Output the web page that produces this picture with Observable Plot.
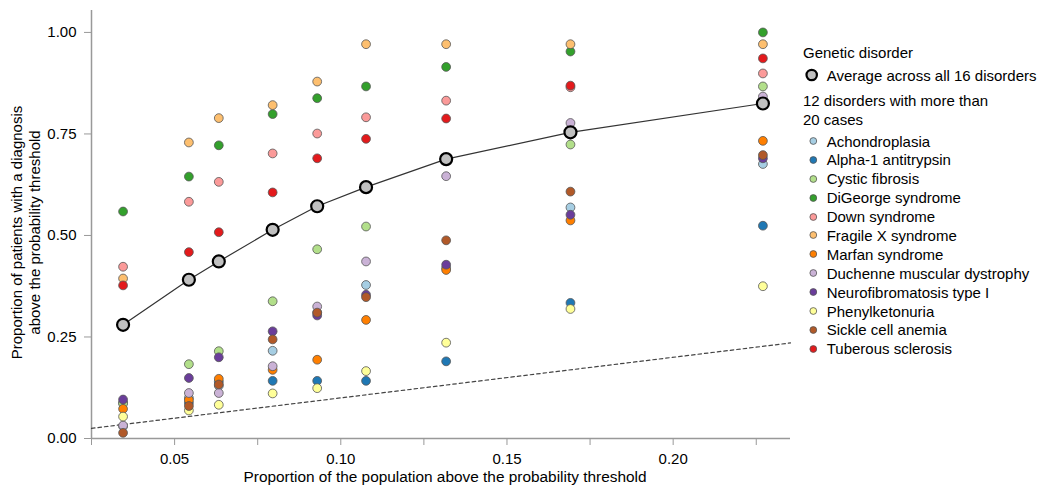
<!DOCTYPE html>
<html>
<head>
<meta charset="utf-8">
<script src="https://cdn.jsdelivr.net/npm/d3@7"></script>
<script src="https://cdn.jsdelivr.net/npm/@observablehq/plot@0.6"></script>
<style>
  body { margin: 0; background: #fff; font-family: "Liberation Sans", Arial, sans-serif; }
  #wrap { position: relative; width: 1050px; height: 494px; }
  #legend { position: absolute; left: 803px; top: 43px; font-size: 15px; color: #000; }
  #legend .title { line-height: 19px; height: 19px; }
  #legend .avg { display: flex; align-items: center; height: 22px; margin-top: 2px; }
  #legend .sub { line-height: 19.3px; margin-top: 5px; margin-bottom: 2px; }
  #legend .item { display: flex; align-items: center; height: 18.9px; }
  #legend svg { flex: none; }
</style>
</head>
<body>
<div id="wrap">
  <div id="chart"></div>
  <div id="legend"></div>
</div>
<script>
// proportion of the population above the probability threshold (x)
const thresholds = [0.0345, 0.0543, 0.0633, 0.0795, 0.0929, 0.1076, 0.1317, 0.1691, 0.2270];
// average across all 16 disorders
const average = [0.280, 0.391, 0.436, 0.514, 0.572, 0.619, 0.688, 0.754, 0.825];

const disorders = ["Achondroplasia", "Alpha-1 antitrypsin", "Cystic fibrosis", "DiGeorge syndrome",
  "Down syndrome", "Fragile X syndrome", "Marfan syndrome", "Duchenne muscular dystrophy",
  "Neurofibromatosis type I", "Phenylketonuria", "Sickle cell anemia", "Tuberous sclerosis"];
const colors = ["#a6cee3", "#1f78b4", "#b2df8a", "#33a02c", "#fb9a99", "#fdbf6f",
  "#ff7f00", "#cab2d6", "#6a3d9a", "#ffff99", "#b15928", "#e31a1c"];

const achondroplasia = [0.030, 0.100, 0.130, 0.216, 0.310, 0.378, 0.420, 0.569, 0.676];
const alpha1 =         [0.088, 0.088, 0.140, 0.142, 0.142, 0.142, 0.190, 0.334, 0.524];
const cysticFibrosis = [0.086, 0.183, 0.215, 0.338, 0.466, 0.522, 0.690, 0.724, 0.867];
const diGeorge =       [0.559, 0.645, 0.722, 0.799, 0.838, 0.867, 0.915, 0.953, 1.000];
const down =           [0.423, 0.583, 0.632, 0.702, 0.751, 0.791, 0.832, 0.865, 0.899];
const fragileX =       [0.394, 0.729, 0.789, 0.821, 0.879, 0.971, 0.971, 0.971, 0.971];
const marfan =         [0.073, 0.095, 0.147, 0.169, 0.194, 0.292, 0.415, 0.537, 0.733];
const duchenne =       [0.032, 0.112, 0.112, 0.178, 0.325, 0.436, 0.646, 0.777, 0.842];
const neurofibro =     [0.096, 0.149, 0.200, 0.264, 0.303, 0.354, 0.428, 0.551, 0.690];
const pku =            [0.054, 0.069, 0.083, 0.111, 0.124, 0.166, 0.236, 0.319, 0.375];
const sickleCell =     [0.014, 0.080, 0.133, 0.244, 0.310, 0.348, 0.488, 0.608, 0.698];
const tuberous =       [0.377, 0.459, 0.508, 0.606, 0.690, 0.738, 0.788, 0.869, 0.936];

const series = [achondroplasia, alpha1, cysticFibrosis, diGeorge, down, fragileX,
  marfan, duchenne, neurofibro, pku, sickleCell, tuberous];

const xTicks = [0.025, 0.05, 0.075, 0.10, 0.125, 0.15, 0.175, 0.20, 0.225];
const yTicks = [0, 0.25, 0.5, 0.75, 1.0];
const xDomain = [0.025, 0.2353];
const yDomain = [0, 1.054];

const table = [];
series.forEach((vals, i) => vals.forEach((v, j) => table.push({disorder: disorders[i], x: thresholds[j], y: v})));
const avgTable = thresholds.map((x, j) => ({x, y: average[j]}));
const diagonal = xDomain.map(v => ({x: v, y: v}));

const chart = Plot.plot({
  width: 800,
  height: 494,
  marginLeft: 91,
  marginRight: 10,
  marginTop: 10,
  marginBottom: 56,
  style: {fontFamily: "'Liberation Sans', Arial, sans-serif", fontSize: "15px", color: "#000"},
  x: {domain: xDomain},
  y: {domain: yDomain},
  color: {type: "ordinal", domain: disorders, range: colors},
  marks: [
    Plot.ruleY([0], {stroke: "#999", strokeWidth: 1.5}),
    Plot.ruleX([xDomain[0]], {stroke: "#999", strokeWidth: 1.5}),
    Plot.axisX({ticks: xTicks, tickSize: 7, tickPadding: 8, stroke: "#999", fontSize: 15,
      tickFormat: d => (Math.round(d * 1000) % 50 === 0 ? d.toFixed(2) : ""), label: null}),
    Plot.axisY({ticks: yTicks, tickSize: 7, tickPadding: 8, stroke: "#999", fontSize: 15,
      tickFormat: d => d.toFixed(2), label: null}),
    Plot.line(diagonal, {x: "x", y: "y", stroke: "#444", strokeWidth: 1.2, strokeDasharray: "3.5,3"}),
    Plot.line(avgTable, {x: "x", y: "y", stroke: "#333", strokeWidth: 1.2}),
    Plot.dot(table, {x: "x", y: "y", fill: "disorder", r: 4.4, stroke: "#555", strokeWidth: 0.8}),
    Plot.dot(avgTable, {x: "x", y: "y", fill: "#c0c0c0", r: 6, stroke: "#000", strokeWidth: 2.2}),
    Plot.text(["Proportion of the population above the probability threshold"],
      {frameAnchor: "bottom", dy: 43, dx: 4, fontSize: 15.4, fill: "#000"}),
    Plot.text(["Proportion of patients with a diagnosis\nabove the probability threshold"],
      {frameAnchor: "left", rotate: -90, dx: -66.5, dy: 8, textAnchor: "middle", lineAnchor: "middle",
       lineHeight: 1.18, fontSize: 15, fill: "#000"})
  ]
});
document.getElementById("chart").appendChild(chart);

// legend
const legend = document.getElementById("legend");
const ns = "http://www.w3.org/2000/svg";
function swatch(w, cx, r, fill, stroke, sw) {
  const s = document.createElementNS(ns, "svg");
  s.setAttribute("width", w); s.setAttribute("height", 16);
  const c = document.createElementNS(ns, "circle");
  c.setAttribute("cx", cx); c.setAttribute("cy", 8); c.setAttribute("r", r);
  c.setAttribute("fill", fill); c.setAttribute("stroke", stroke); c.setAttribute("stroke-width", sw);
  s.appendChild(c);
  return s;
}
const t = document.createElement("div"); t.className = "title"; t.textContent = "Genetic disorder"; legend.appendChild(t);
const a = document.createElement("div"); a.className = "avg";
a.appendChild(swatch(23.7, 8.7, 5.2, "#c0c0c0", "#000", 2.2));
const at = document.createElement("span"); at.textContent = "Average across all 16 disorders"; a.appendChild(at);
legend.appendChild(a);
const sub = document.createElement("div"); sub.className = "sub";
sub.innerHTML = "12 disorders with more than<br>20 cases"; legend.appendChild(sub);
disorders.forEach((d, i) => {
  const row = document.createElement("div"); row.className = "item";
  row.appendChild(swatch(23.7, 10.3, 3.4, colors[i], "#555", 0.8));
  const sp = document.createElement("span"); sp.textContent = d; row.appendChild(sp);
  legend.appendChild(row);
});
</script>
</body>
</html>
